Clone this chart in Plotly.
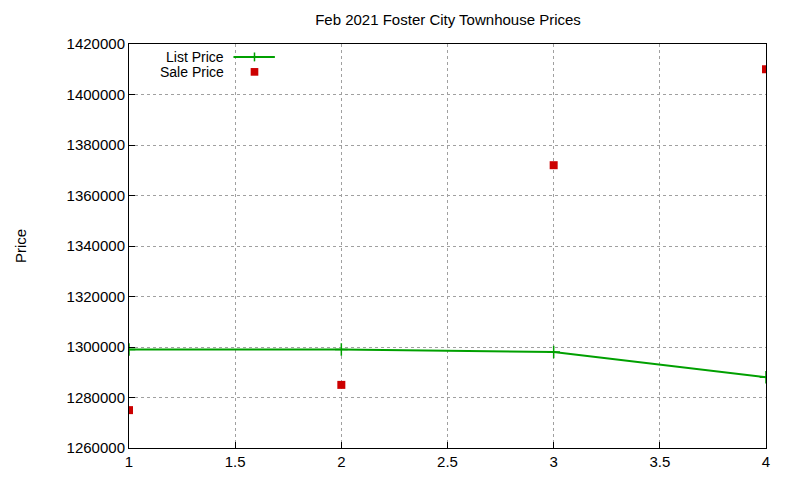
import plotly.graph_objects as go

x_vals = [1, 2, 3, 4]
list_price = [1299000, 1299000, 1298000, 1288000]
sale_price = [1275000, 1285000, 1372000, 1410000]

green = "#00a000"
red = "#cc0000"
fig = go.Figure()
fig.add_trace(go.Scatter(x=x_vals, y=list_price, mode="lines+markers", name="List Price",
                         line=dict(color=green, width=2),
                         marker=dict(symbol="cross-thin", size=9, line=dict(color=green, width=1.5))))
fig.add_trace(go.Scatter(x=x_vals, y=sale_price, mode="markers", name="Sale Price",
                         marker=dict(symbol="square", size=8, color=red)))

axis_common = dict(showgrid=True, gridcolor="#a0a0a0", griddash="dot", gridwidth=1,
                   showline=True, mirror=True, linecolor="black", linewidth=1,
                   ticks="inside", ticklen=6, tickcolor="black", zeroline=False,
                   tickfont=dict(family="Liberation Sans, Arial", size=15, color="black"))
fig.update_xaxes(range=[1, 4], dtick=0.5, **axis_common)
fig.update_yaxes(range=[1260000, 1420000], dtick=20000, tickformat="d",
                 title=dict(text="Price", font=dict(family="Liberation Sans, Arial", size=15, color="black"), standoff=36),
                 **axis_common)

# legend (gnuplot style)
lx0, lx1, ly1, ly2, mx = 0.164, 0.229, 0.968, 0.931, 0.197
fig.add_shape(type="line", xref="paper", yref="paper", x0=lx0, x1=lx1, y0=ly1, y1=ly1, line=dict(color=green, width=2))
fig.add_shape(type="line", xref="paper", yref="paper", x0=mx, x1=mx, y0=ly1 - 0.011, y1=ly1 + 0.011, line=dict(color=green, width=1.5))
fig.add_shape(type="rect", xref="paper", yref="paper", x0=mx - 0.006, x1=mx + 0.006, y0=ly2 - 0.0095, y1=ly2 + 0.0095,
              line=dict(width=0), fillcolor=red)
for txt, yy in [("List Price", ly1), ("Sale Price", ly2)]:
    fig.add_annotation(text=txt, xref="paper", yref="paper", x=0.152, y=yy, xanchor="right", yanchor="middle",
                       showarrow=False, font=dict(family="Liberation Sans, Arial", size=14, color="black"))

fig.update_layout(width=800, height=480, showlegend=False,
                  paper_bgcolor="white", plot_bgcolor="white",
                  margin=dict(l=112, r=42, t=36, b=40),
                  title=dict(text="Feb 2021 Foster City Townhouse Prices", x=0.55, xanchor="center", y=0.975, yanchor="middle",
                             font=dict(family="Liberation Sans, Arial", size=15, color="black")))
fig.write_html("out.html")
